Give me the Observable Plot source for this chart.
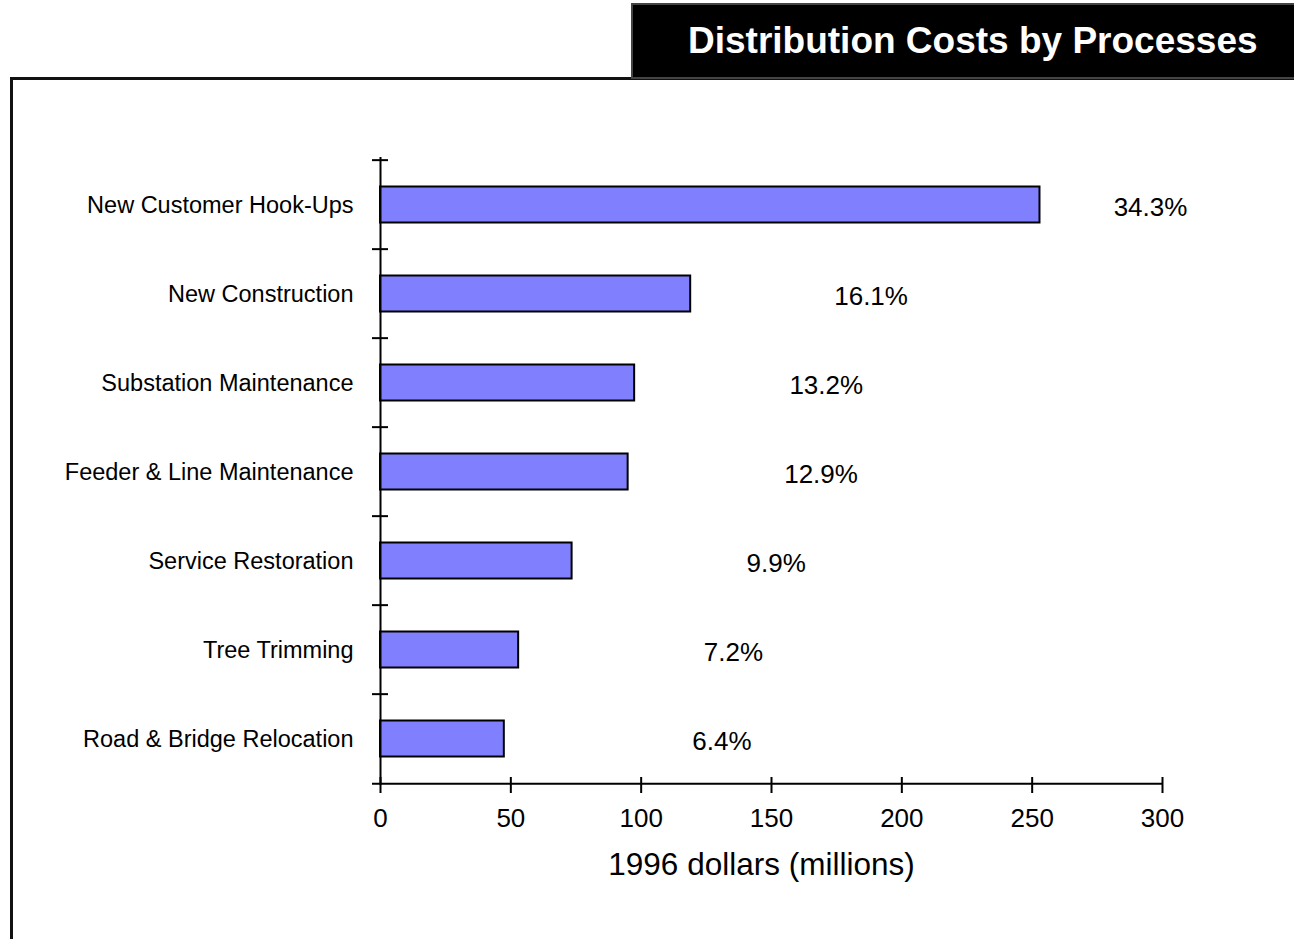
<!DOCTYPE html>
<html>
<head>
<meta charset="utf-8">
<script src="https://cdn.jsdelivr.net/npm/d3@7"></script>
<script src="https://cdn.jsdelivr.net/npm/@observablehq/plot@0.6"></script>
<style>
  html, body { margin: 0; padding: 0; background: #fff; }
  #wrap { position: relative; width: 1294px; height: 939px; overflow: hidden; background: #fff; font-family: "Liberation Sans", Arial, sans-serif; }
  #frame { position: absolute; left: 10px; top: 77px; width: 1400px; height: 1000px; border-left: 3px solid #111; border-top: 3px solid #111; }
  #titlebox { position: absolute; left: 631px; top: 3px; width: 700px; height: 72px; background: #000; border: 2px solid #444; }
  #title { position: absolute; left: 688px; top: 22px; font: bold 37px "Liberation Sans", Arial, sans-serif; line-height: 1; color: #fff; white-space: nowrap; }
  #chart { position: absolute; left: 0; top: 80px; }
</style>
</head>
<body>
<div id="wrap">
  <div id="frame"></div>
  <div id="titlebox"></div>
  <div id="title">Distribution Costs by Processes</div>
  <div id="chart"></div>
</div>
<script>
const categories = [
  "New Customer Hook-Ups",
  "New Construction",
  "Substation Maintenance",
  "Feeder & Line Maintenance",
  "Service Restoration",
  "Tree Trimming",
  "Road & Bridge Relocation"
];
const costs = [253, 119, 97.5, 95, 73.5, 53, 47.5];
const shares = [34.3, 16.1, 13.2, 12.9, 9.9, 7.2, 6.4];
const xTicks = [0, 50, 100, 150, 200, 250, 300];
const axisTitle = "1996 dollars (millions)";

const data = categories.map((c, i) => ({category: c, cost: costs[i], share: shares[i]}));

const W = 1294, H = 859, mT = 77, mB = 154, mL = 380, mR = 132;
const innerH = H - mT - mB;
const innerW = W - mL - mR;
const step = innerH / categories.length;

const chart = Plot.plot({
  width: W,
  height: H,
  marginTop: mT,
  marginBottom: mB,
  marginLeft: mL,
  marginRight: mR,
  style: {background: "transparent", fontFamily: "'Liberation Sans', Arial, sans-serif", color: "#000", overflow: "visible"},
  x: {domain: [0, 300], label: null, axis: null},
  y: {domain: categories, padding: 0, label: null, axis: null},
  marks: [
    Plot.barX(data, {x: "cost", y: "category", fill: "#8080ff", stroke: "#000", strokeWidth: 2, insetTop: 26.5, insetBottom: 26.5}),
    Plot.ruleX([0], {stroke: "#000", strokeWidth: 2}),
    Plot.tickY(categories, {y: d => d, dy: -step / 2, insetLeft: -8, insetRight: innerW - 8, stroke: "#000", strokeWidth: 2}),
    Plot.tickY(categories.slice(-1), {y: d => d, dy: step / 2, insetLeft: -8, insetRight: 0, stroke: "#000", strokeWidth: 2}),
    Plot.tickX(xTicks, {x: d => d, insetTop: innerH - 8, insetBottom: -8, stroke: "#000", strokeWidth: 2}),
    Plot.axisX({ticks: xTicks, tickSize: 0, tickPadding: 23, fontSize: 26, label: null}),
    Plot.axisY({tickSize: 0, tickPadding: 27, fontSize: 23.5, label: null}),
    Plot.text(data, {x: d => d.cost * 0.8 + 93, y: "category", dy: 3, text: d => d.share.toFixed(1) + "%", fontSize: 26}),
    Plot.text([axisTitle], {frameAnchor: "bottom", dx: -10, dy: 89, fontSize: 31.5})
  ]
});
document.getElementById("chart").appendChild(chart);
</script>
</body>
</html>
